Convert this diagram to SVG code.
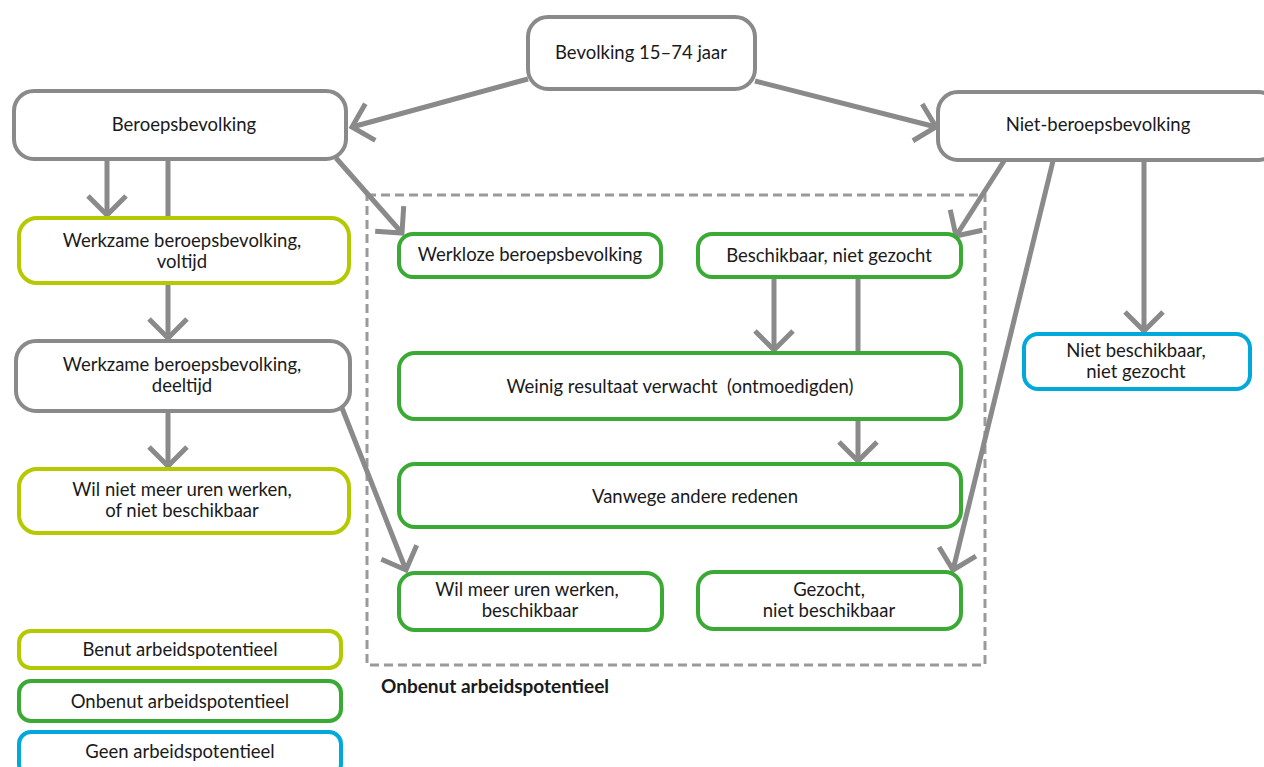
<svg xmlns="http://www.w3.org/2000/svg" width="1264" height="767" viewBox="0 0 1264 767">
<style>
  text { font-family: Lato, "Open Sans", "Liberation Sans", sans-serif; font-size: 18.5px; fill: #1a1a1a; text-anchor: middle; }
  .box { fill: #fff; stroke-width: 4; }
  .gray { stroke: #8a8a8a; }
  .yg { stroke: #b4c900; }
  .gr { stroke: #3aaa35; }
  .bl { stroke: #00a9d9; }
  .con { stroke: #8a8a8a; stroke-width: 5; fill: none; }
  .arr { marker-end: url(#chev); }
  .lbl { font-weight: bold; text-anchor: start; font-size: 19px; }
</style>
<defs>
  <marker id="chev" viewBox="-26 -26 30 52" refX="0" refY="0" markerWidth="30" markerHeight="52" markerUnits="userSpaceOnUse" orient="auto">
    <path d="M-19,-19 L0,0 L-19,19" fill="none" stroke="#8a8a8a" stroke-width="5"/>
  </marker>
</defs>
<rect width="1264" height="767" fill="#fff"/>

<rect x="367" y="195" width="618" height="470" fill="none" stroke="#9a9a9a" stroke-width="3" stroke-dasharray="9,5"/>
<text class="lbl" x="381" y="693">Onbenut arbeidspotentieel</text>

<g id="connectors">
  <line class="con arr" x1="528" y1="79" x2="352" y2="127"/>
  <line class="con arr" x1="755" y1="81" x2="936" y2="127"/>
  <line class="con arr" x1="107" y1="159" x2="107" y2="215"/>
  <line class="con" x1="168" y1="159" x2="168" y2="220"/>
  <line class="con arr" x1="168" y1="283" x2="168" y2="338"/>
  <line class="con arr" x1="168" y1="411" x2="168" y2="466"/>
  <line class="con arr" x1="336" y1="158" x2="402" y2="233"/>
  <line class="con arr" x1="342" y1="408" x2="406" y2="570"/>
  <line class="con arr" x1="774" y1="277" x2="774" y2="350"/>
  <line class="con" x1="858" y1="277" x2="858" y2="355"/>
  <line class="con arr" x1="858" y1="419" x2="858" y2="461"/>
  <line class="con arr" x1="1004" y1="161" x2="956" y2="236"/>
  <line class="con arr" x1="1053" y1="161" x2="953" y2="570"/>
  <line class="con arr" x1="1144" y1="160" x2="1144" y2="331"/>
</g>

<g id="n-bevolking">
  <rect class="box gray" x="528" y="17" width="227" height="72" rx="20"/>
  <text x="641" y="59">Bevolking 15–74 jaar</text>
</g>
<g id="n-beroeps">
  <rect class="box gray" x="14" y="91" width="332" height="68" rx="20"/>
  <text x="184" y="131">Beroepsbevolking</text>
</g>
<g id="n-nietberoeps">
  <rect class="box gray" x="938" y="92" width="340" height="68" rx="20"/>
  <text x="1098" y="131">Niet-beroepsbevolking</text>
</g>
<g id="n-voltijd">
  <rect class="box yg" x="19" y="218" width="330" height="65" rx="18"/>
  <text x="182" y="247">Werkzame beroepsbevolking,</text>
  <text x="182" y="268">voltijd</text>
</g>
<g id="n-deeltijd">
  <rect class="box gray" x="16" y="341" width="334" height="70" rx="20"/>
  <text x="182" y="371">Werkzame beroepsbevolking,</text>
  <text x="182" y="392">deeltijd</text>
</g>
<g id="n-wilniet">
  <rect class="box yg" x="19" y="469" width="330" height="64" rx="18"/>
  <text x="182" y="496">Wil niet meer uren werken,</text>
  <text x="182" y="517">of niet beschikbaar</text>
</g>
<g id="n-werkloze">
  <rect class="box gr" x="399" y="234" width="262" height="43" rx="14"/>
  <text x="530" y="261">Werkloze beroepsbevolking</text>
</g>
<g id="n-beschikbaar">
  <rect class="box gr" x="698" y="234" width="263" height="43" rx="14"/>
  <text x="829" y="262">Beschikbaar, niet gezocht</text>
</g>
<g id="n-weinig">
  <rect class="box gr" x="399" y="353" width="562" height="66" rx="16"/>
  <text x="680" y="393" xml:space="preserve">Weinig resultaat verwacht  (ontmoedigden)</text>
</g>
<g id="n-vanwege">
  <rect class="box gr" x="399" y="464" width="562" height="63" rx="16"/>
  <text x="695" y="503">Vanwege andere redenen</text>
</g>
<g id="n-wilmeer">
  <rect class="box gr" x="399" y="573" width="263" height="57" rx="16"/>
  <text x="527" y="596">Wil meer uren werken,</text>
  <text x="530" y="617">beschikbaar</text>
</g>
<g id="n-gezocht">
  <rect class="box gr" x="698" y="572" width="263" height="57" rx="16"/>
  <text x="829" y="596">Gezocht,</text>
  <text x="829" y="617">niet beschikbaar</text>
</g>
<g id="n-nietbeschikbaar">
  <rect class="box bl" x="1024" y="334" width="226" height="55" rx="14"/>
  <text x="1136" y="357">Niet beschikbaar,</text>
  <text x="1136" y="378">niet gezocht</text>
</g>
<g id="legend-benut">
  <rect class="box yg" x="19" y="631" width="322" height="37" rx="12"/>
  <text x="180" y="656">Benut arbeidspotentieel</text>
</g>
<g id="legend-onbenut">
  <rect class="box gr" x="19" y="681" width="322" height="40" rx="12"/>
  <text x="180" y="708">Onbenut arbeidspotentieel</text>
</g>
<g id="legend-geen">
  <rect class="box bl" x="19" y="732" width="322" height="44" rx="12"/>
  <text x="180" y="758">Geen arbeidspotentieel</text>
</g>
</svg>
